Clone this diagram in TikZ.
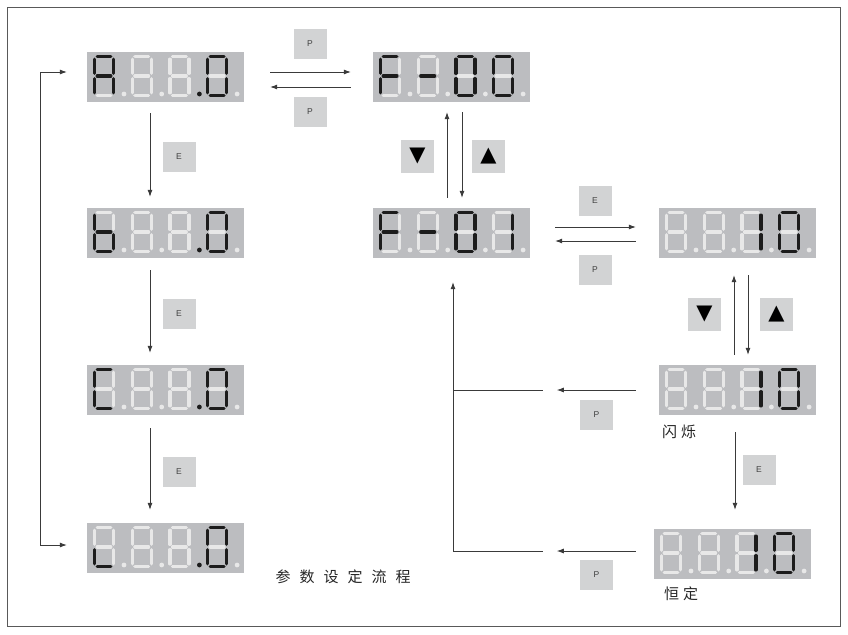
\documentclass[tikz,border=0pt]{standalone}
\usepackage{fontspec}
\setmainfont{Liberation Sans}
\newfontfamily\cjk{Noto Sans CJK SC}
\newfontfamily\symf{DejaVu Sans}
\usetikzlibrary{arrows.meta}
\definecolor{dispgray}{HTML}{BCBDC0}
\definecolor{keygray}{HTML}{D2D3D4}
\definecolor{segoff}{HTML}{E8E8E8}
\definecolor{segon}{HTML}{1C1C1C}
\definecolor{lncol}{HTML}{3A3A3A}
\tikzset{
  s1/.style={line width=3.2pt, draw=segon, line cap=round},
  s0/.style={line width=3.2pt, draw=segoff, line cap=round},
  d1/.style={fill=segon},
  d0/.style={fill=segoff},
  dispbox/.style={draw=none, fill=dispgray, minimum width=157pt, minimum height=50pt, inner sep=0pt},
  keybox/.style={fill=keygray, minimum width=33pt, minimum height=30pt, inner sep=0pt, text=black!75, font=\fontsize{8.5}{9}\selectfont},
  trikey/.style={fill=keygray, minimum width=33pt, minimum height=33pt, inner sep=0pt, text=black, font=\symf\fontsize{21}{21}\selectfont},
  arr/.style={draw=lncol, line width=0.8pt, -{Latex[length=7pt,width=5pt]}},
  arrb/.style={draw=lncol, line width=0.8pt, {Latex[length=7pt,width=5pt]}-{Latex[length=7pt,width=5pt]}},
  ln/.style={draw=lncol, line width=0.8pt},
  cjktxt/.style={inner sep=0pt, text=black!85, font=\cjk\fontsize{15}{15}\selectfont},
}
% segment codes: a b c d e f g
\def\codeA{{1}{1}{1}{0}{1}{1}{1}}
\def\codeb{{0}{0}{1}{1}{1}{1}{1}}
\def\codeC{{1}{0}{0}{1}{1}{1}{0}}
\def\codeu{{0}{0}{0}{1}{1}{0}{0}}
\def\codeZ{{1}{1}{1}{1}{1}{1}{0}}
\def\codeO{{0}{1}{1}{0}{0}{0}{0}}
\def\codeF{{1}{0}{0}{0}{1}{1}{1}}
\def\codeM{{0}{0}{0}{0}{0}{0}{1}}
\def\codeX{{0}{0}{0}{0}{0}{0}{0}}
\newcommand\digsegs[9]{%
  \begin{scope}[shift={(#8,#9)}]
    \draw[s#1] (2.6,0) -- (16.4,0);
    \draw[s#2] (19,2.6) -- (19,16.9);
    \draw[s#3] (19,22.1) -- (19,36.4);
    \draw[s#4] (2.6,39) -- (16.4,39);
    \draw[s#5] (0,22.1) -- (0,36.4);
    \draw[s#6] (0,2.6) -- (0,16.9);
    \draw[s#7] (2.6,19.5) -- (16.4,19.5);
  \end{scope}}
\newcommand\dig[3]{\expandafter\expandafter\expandafter\digsegs\csname code#3\endcsname{#1}{#2}}
\newcommand\disp[8]{%
  \node[dispbox] (#1) at ({#2+78.5},{#3+25}) {};
  \dig{#2+7.5}{#3+4.5}{#4}
  \dig{#2+45.2}{#3+4.5}{#5}
  \dig{#2+82.9}{#3+4.5}{#6}
  \dig{#2+120.6}{#3+4.5}{#7}
  \fill[d0] (#2+37,#3+42) circle (2.4pt);
  \fill[d0] (#2+74.7,#3+42) circle (2.4pt);
  \fill[d#8] (#2+112.4,#3+42) circle (2.4pt);
  \fill[d0] (#2+150.1,#3+42) circle (2.4pt);
}
\begin{document}
\begin{tikzpicture}[x=1pt,y=-1pt]
\useasboundingbox (0,0) rectangle (848,634);
\fill[white] (0,0) rectangle (848,634);
\draw[black!65, line width=0.8pt] (7.5,7.5) rectangle (840.5,626.5);

% displays
\disp{dA}{87}{52}{A}{X}{X}{Z}{1}
\disp{dF0}{373}{52}{F}{M}{Z}{Z}{0}
\disp{db}{87}{208}{b}{X}{X}{Z}{1}
\disp{dF1}{373}{208}{F}{M}{Z}{O}{0}
\disp{dR1}{659}{208}{X}{X}{O}{Z}{0}
\disp{dC}{87}{365}{C}{X}{X}{Z}{1}
\disp{dR2}{659}{365}{X}{X}{O}{Z}{0}
\disp{du}{87}{523}{u}{X}{X}{Z}{1}
\disp{dR3}{654}{529}{X}{X}{O}{Z}{0}

% keys
\node[keybox] (kp1) at (310,44) {P};
\node[keybox] (kp2) at (310,112) {P};
\node[keybox] (ke1) at (179,156.5) {E};
\node[keybox] (ke2) at (179,313.5) {E};
\node[keybox] (ke3) at (179,471.5) {E};
\node[trikey] (kd1) at (417.5,156.5) {▼};
\node[trikey] (ku1) at (488.5,156.5) {▲};
\node[keybox] (ke4) at (595,201) {E};
\node[keybox] (kp3) at (595,270) {P};
\node[trikey] (kd2) at (704.5,314.5) {▼};
\node[trikey] (ku2) at (776.5,314.5) {▲};
\node[keybox] (kp4) at (596.5,414.5) {P};
\node[keybox] (ke5) at (759,470) {E};
\node[keybox] (kp5) at (596.5,575) {P};

% texts
\node[cjktxt, anchor=west] (tflash) at (662,432) {闪\hspace{4pt}烁};
\node[cjktxt, anchor=west] (tconst) at (664,594) {恒\hspace{4pt}定};
\node[cjktxt] (ttitle) at (343,577) {参\hspace{9pt}数\hspace{9pt}设\hspace{9pt}定\hspace{9pt}流\hspace{9pt}程};

% top row arrows
\draw[arr] ([xshift=26pt,yshift=5pt]dA.east) -- ([xshift=-22pt,yshift=5pt]dF0.west);
\draw[arr] ([xshift=-22pt,yshift=-10pt]dF0.west) -- ([xshift=26pt,yshift=-10pt]dA.east);

% left column
\draw[arr] ([xshift=-15.5pt,yshift=-11pt]dA.south) -- ([xshift=-15.5pt,yshift=11pt]db.north);
\draw[arr] ([xshift=-15.5pt,yshift=-12pt]db.south) -- ([xshift=-15.5pt,yshift=12pt]dC.north);
\draw[arr] ([xshift=-15.5pt,yshift=-13pt]dC.south) -- ([xshift=-15.5pt,yshift=13pt]du.north);

% loop
\coordinate (loopL) at (40,0);
\coordinate (lt) at ([xshift=-20pt,yshift=5pt]dA.west);
\coordinate (lb) at ([xshift=-20pt,yshift=3pt]du.west);
\draw[arrb] (lt) -- (lt -| loopL) -- (lb -| loopL) -- (lb);

% F-00 <-> F-01
\draw[arr] ([xshift=-4.5pt,yshift=10pt]dF1.north) -- ([xshift=-4.5pt,yshift=-10pt]dF0.south);
\draw[arr] ([xshift=10.5pt,yshift=-10pt]dF0.south) -- ([xshift=10.5pt,yshift=10pt]dF1.north);

% F-01 <-> R1
\draw[arr] ([xshift=25pt,yshift=6pt]dF1.east) -- ([xshift=-23pt,yshift=6pt]dR1.west);
\draw[arr] ([xshift=-23pt,yshift=-8pt]dR1.west) -- ([xshift=25pt,yshift=-8pt]dF1.east);

% R1 <-> R2
\draw[arr] ([xshift=-3.5pt,yshift=10pt]dR2.north) -- ([xshift=-3.5pt,yshift=-17pt]dR1.south);
\draw[arr] ([xshift=10.5pt,yshift=-17pt]dR1.south) -- ([xshift=10.5pt,yshift=10pt]dR2.north);

% R2 -> R3
\draw[arr] ([xshift=-2.5pt,yshift=-17pt]dR2.south) -- ([xshift=2.5pt,yshift=19pt]dR3.north);

% return paths
\coordinate (rx) at (453,0);
\coordinate (f1b) at ([yshift=-24pt]dF1.south);
\draw[arr] ([xshift=-23pt]dR2.west) -- ([xshift=-102pt]dR2.west);
\coordinate (mL) at ([xshift=-116pt]dR2.west);
\draw[ln] (mL) -- (mL -| rx);
\draw[arr] ([xshift=-18pt,yshift=3pt]dR3.west) -- ([xshift=-97pt,yshift=3pt]dR3.west);
\coordinate (bL) at ([xshift=-111pt,yshift=3pt]dR3.west);
\draw[ln] (bL) -- (bL -| rx);
\draw[arr] (bL -| rx) -- (f1b -| rx);
\end{tikzpicture}
\end{document}
